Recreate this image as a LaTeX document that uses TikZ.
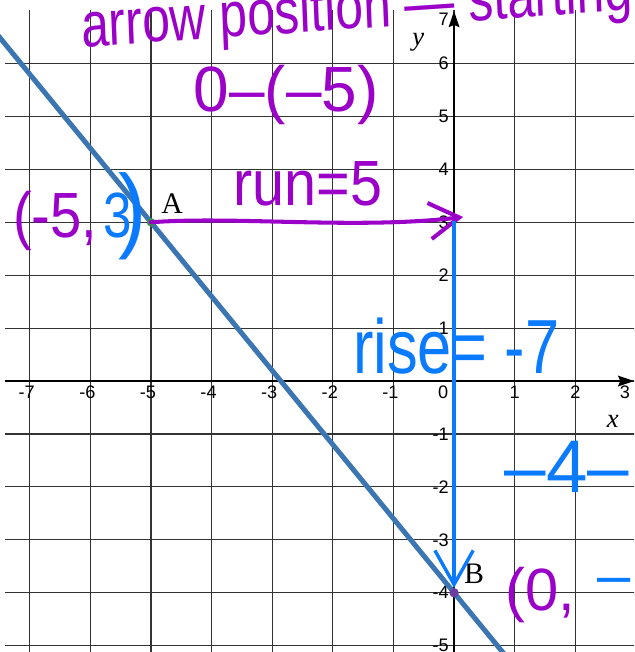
\documentclass[tikz,border=0pt]{standalone}
\usepackage{fontspec}
\setmainfont{Liberation Serif}
\setsansfont{Liberation Sans}
\usetikzlibrary{arrows.meta}
\definecolor{penPurple}{HTML}{9B00C9}
\definecolor{penBlue}{HTML}{0A7AFF}
\definecolor{lineBlue}{HTML}{3B76B3}
\definecolor{ptGreen}{HTML}{3A8F4E}
\definecolor{ptPurple}{HTML}{6B3FA0}

\begin{document}
\begin{tikzpicture}[x=1cm, y=0.873cm,
      gridline/.style={draw=black!80, line width=0.55pt},
      axis/.style={draw=black, line width=0.9pt, -{Stealth[length=7.5pt, width=5pt, inset=1pt]}},
      tick/.style={font=\sffamily\fontsize{8.5}{8.5}\selectfont, inner sep=0pt},
      hand/.style={font=\sffamily\fontsize{#1}{#1}\selectfont, inner sep=0pt},
      pen/.style={draw=#1, line width=1.9pt, line cap=round, line join=round},
      every node/.style={align=center}]
    \clip (-7.49,-5.12) rectangle (2.97,7.20);
    % grid and axes
    \foreach \i in {-7,...,2} \draw[gridline] (\i,7.01) -- (\i,-5.2);
    \foreach \j in {-5,...,6} \draw[gridline] (-7.41,\j) -- (3.1,\j);
    \draw[axis] (-7.41,0) -- (2.97,0);
    \draw[axis] (0,-5.2) -- (0,6.99);
    % tick labels
    \node[tick, anchor=north] (xm7) at (-7,-0.09) {\llap{-}7};
    \node[tick, anchor=north] (xm6) at (-6,-0.09) {\llap{-}6};
    \node[tick, anchor=north] (xm5) at (-5,-0.09) {\llap{-}5};
    \node[tick, anchor=north] (xm4) at (-4,-0.09) {\llap{-}4};
    \node[tick, anchor=north] (xm3) at (-3,-0.09) {\llap{-}3};
    \node[tick, anchor=north] (xm2) at (-2,-0.09) {\llap{-}2};
    \node[tick, anchor=north] (xm1) at (-1,-0.09) {\llap{-}1};
    \node[tick, anchor=north] (x0) at (-0.18,-0.09) {0};
    \node[tick, anchor=north] (x1) at (1,-0.09) {1};
    \node[tick, anchor=north] (x2) at (2,-0.09) {2};
    \node[tick, anchor=north] (x3) at (2.82,-0.09) {3};
    \node[tick, anchor=east] (y7) at (-0.08,6.83) {7};
    \node[tick, anchor=east] (y6) at (-0.08,6) {6};
    \node[tick, anchor=east] (y5) at (-0.08,5) {5};
    \node[tick, anchor=east] (y4) at (-0.08,4) {4};
    \node[tick, anchor=east] (y3) at (-0.08,3) {3};
    \node[tick, anchor=east] (y2) at (-0.08,2) {2};
    \node[tick, anchor=east] (y1) at (-0.08,1) {1};
    \node[tick, anchor=east] (ym1) at (-0.08,-1) {-1};
    \node[tick, anchor=east] (ym2) at (-0.08,-2) {-2};
    \node[tick, anchor=east] (ym3) at (-0.08,-3) {-3};
    \node[tick, anchor=east] (ym4) at (-0.08,-4) {-4};
    \node[tick, anchor=east] (ym5) at (-0.08,-5) {-5};
    \node[font=\itshape\fontsize{12.5}{12.5}\selectfont] (xlab) at (2.62,-0.76) {x};
    \node[font=\itshape\fontsize{12.5}{12.5}\selectfont] (ylab) at (-0.59,6.41) {y};
    % the line through A and B
    \draw[lineBlue, line width=2.35pt] (-7.6,6.64) -- (0.9,-5.26);
    \coordinate (A) at (-5,3);
    \coordinate (B) at (0,-4);
    \fill[ptGreen] (A) circle (2pt);
    \fill[ptPurple] (B) circle (2.2pt);
    \node[font=\fontsize{14}{14}\selectfont] (labA) at (-4.65,3.36) {A};
    \node[font=\fontsize{14}{14}\selectfont] (labB) at (0.33,-3.65) {B};
    % run (purple pen)
    \coordinate (runtip) at (0.15,3.1);
    \draw[pen=penPurple, -{Straight Barb[length=14pt, width=17pt]}] (A) .. controls (-3.6,3.12) and (-1.6,2.86) .. (runtip);
    \node[hand=30, xscale=0.9, transform shape, text=penPurple] (run) at (-2.41,3.72) {run=5};
    \node[hand=30, text=penPurple] (diff) at (-2.77,5.41) {0–(–5)};
    \node[hand=30, xscale=0.78, rotate=3, transform shape, anchor=base west, text=penPurple] (title) at (-6.14,6.31) {arrow position — starting};
    \node[hand=30, xscale=0.88, transform shape, anchor=base west, text=penPurple] (apt) at (-7.28,2.72) {(-5,};
    \node[hand=30, xscale=0.8, transform shape, anchor=base west, text=penBlue] (athree) at (-5.79,2.72) {3};
    \node[hand=44, xscale=0.9, transform shape, text=penBlue] (aparen) at (-5.30,3.11) {)};
    % rise (blue pen)
    \coordinate (risetop) at (0,3.0);
    \coordinate (risetip) at (0,-3.91);
    \draw[pen=penBlue, line width=1.6pt, -{Straight Barb[length=16pt, width=18pt]}] (risetop) -- (risetip);
    \node[hand=36, xscale=0.8, transform shape, anchor=base west, text=penBlue] (rise) at (-1.67,0.15) {rise= -7};
    \node[hand=35, text=penBlue] (four) at (1.86,-1.63) {–4–};
    \node[hand=28, anchor=base west, text=penPurple] (bpt) at (0.84,-4.33) {(0,};
    \node[hand=28, anchor=base, text=penBlue] (bdash) at (2.64,-4.05) {–};
  \end{tikzpicture}
\end{document}
